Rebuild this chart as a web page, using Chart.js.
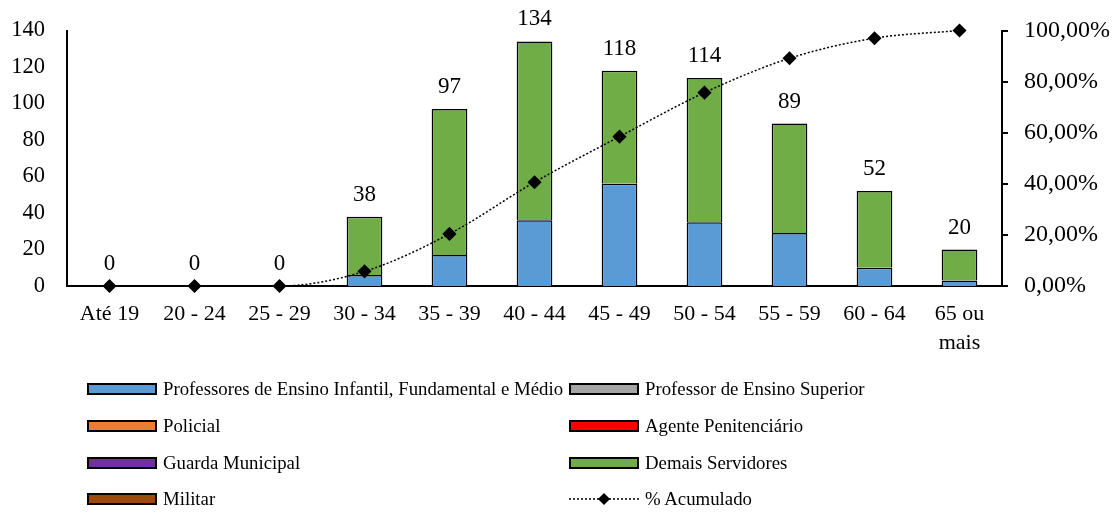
<!DOCTYPE html>
<html>
<head>
<meta charset="utf-8">
<script src="https://cdn.jsdelivr.net/npm/chart.js@4.4.0/dist/chart.umd.min.js"></script>
<style>
  html, body { margin: 0; padding: 0; background: #fff; overflow: hidden; }
  #wrap { position: relative; width: 1116px; height: 513px; overflow: hidden; }
  #chart { position: absolute; left: 0; top: -5px; }
  #legend { position: absolute; left: 0; top: 0; width: 1116px; height: 513px; pointer-events: none;
    font-family: 'Liberation Serif', 'Times New Roman', serif; font-size: 18.8px; color: #000; }
  .item { position: absolute; display: flex; align-items: center; height: 20px; white-space: nowrap; }
  .sw { width: 66px; height: 8px; border: 2px solid #000; margin-right: 6px; }
  .ln { width: 70px; height: 20px; margin-right: 6px; }
</style>
</head>
<body>
<div id="wrap">
  <canvas id="chart" width="1116" height="518"></canvas>
  <div id="legend"></div>
</div>
<script>
// categories and values
const ageGroups = ['Até 19', '20 - 24', '25 - 29', '30 - 34', '35 - 39', '40 - 44', '45 - 49', '50 - 54', '55 - 59', '60 - 64', ['65 ou', 'mais']];
const professoresBasico = [0, 0, 0, 6, 17, 36, 56, 35, 29, 10, 3];
const professorSuperior = [0, 0, 0, 0, 0, 0, 0, 0, 0, 0, 0];
const policial = [0, 0, 0, 0, 0, 0, 0, 0, 0, 0, 0];
const agentePenitenciario = [0, 0, 0, 0, 0, 0, 0, 0, 0, 0, 0];
const guardaMunicipal = [0, 0, 0, 0, 0, 0, 0, 0, 0, 0, 0];
const demaisServidores = [0, 0, 0, 32, 80, 98, 62, 79, 60, 42, 17];
const militar = [0, 0, 0, 0, 0, 0, 0, 0, 0, 0, 0];
const totals = [0, 0, 0, 38, 97, 134, 118, 114, 89, 52, 20];
const acumulado = [0, 0, 0, 5.74, 20.39, 40.63, 58.46, 75.68, 89.12, 96.98, 100];

const leftTicks = [0, 20, 40, 60, 80, 100, 120, 140];
const rightTicks = [0, 20, 40, 60, 80, 100];

const serif = "'Liberation Serif', 'Times New Roman', serif";

const colors = {
  blue: '#5B9BD5',
  gray: '#A5A5A5',
  orange: '#ED7D31',
  red: '#FF0000',
  purple: '#7030A0',
  green: '#70AD47',
  brown: '#9E480E',
};

function barSet(label, data, color) {
  const used = data.some((v) => v > 0);
  return {
    type: 'bar',
    label: label,
    data: data,
    backgroundColor: color,
    borderColor: '#000',
    borderWidth: used ? 1.5 : 0,
    stack: 's',
    yAxisID: 'y',
    order: 2,
    categoryPercentage: 1,
    barPercentage: 0.42,
  };
}

// totals above each column
const totalLabels = {
  id: 'totalLabels',
  afterDatasetsDraw(chart) {
    const ctx = chart.ctx;
    const yScale = chart.scales.y;
    const xScale = chart.scales.x;
    ctx.save();
    ctx.font = '23px ' + serif;
    ctx.fillStyle = '#000';
    ctx.textAlign = 'center';
    ctx.textBaseline = 'middle';
    totals.forEach((t, i) => {
      const x = xScale.getPixelForValue(i);
      const y = yScale.getPixelForValue(t);
      ctx.fillText(String(t), x, y - 22);
    });
    ctx.restore();
  },
};

new Chart(document.getElementById('chart'), {
  data: {
    labels: ageGroups,
    datasets: [
      barSet('Professores de Ensino Infantil, Fundamental e Médio', professoresBasico, colors.blue),
      barSet('Professor de Ensino Superior', professorSuperior, colors.gray),
      barSet('Policial', policial, colors.orange),
      barSet('Agente Penitenciário', agentePenitenciario, colors.red),
      barSet('Guarda Municipal', guardaMunicipal, colors.purple),
      barSet('Demais Servidores', demaisServidores, colors.green),
      barSet('Militar', militar, colors.brown),
      {
        type: 'line',
        label: '% Acumulado',
        data: acumulado,
        yAxisID: 'y1',
        borderColor: '#000',
        borderWidth: 1.5,
        borderDash: [2, 2],
        backgroundColor: '#000',
        pointStyle: 'rectRot',
        pointRadius: 6,
        pointBackgroundColor: '#000',
        pointBorderColor: '#000',
        cubicInterpolationMode: 'monotone',
        fill: false,
        clip: false,
        order: 1,
      },
    ],
  },
  options: {
    responsive: false,
    animation: false,
    events: [],
    layout: { autoPadding: false, padding: { top: 20, left: 0, right: 0, bottom: 0 } },
    plugins: {
      legend: { display: false },
      tooltip: { enabled: false },
    },
    scales: {
      x: {
        stacked: true,
        offset: true,
        grid: { display: false, drawTicks: false },
        border: { display: true, color: '#000', width: 2 },
        ticks: { color: '#000', font: { family: serif, size: 22, lineHeight: 1.3 }, padding: 14, maxRotation: 0, autoSkip: false },
        afterFit(scale) { scale.height = 227; },
      },
      y: {
        stacked: true,
        position: 'left',
        min: 0,
        max: 140,
        afterBuildTicks(scale) { scale.ticks = leftTicks.map((v) => ({ value: v })); },
        grid: { display: false, drawTicks: false },
        border: { display: true, color: '#000', width: 2 },
        ticks: { color: '#000', font: { family: serif, size: 22.5 }, padding: 22 },
        afterFit(scale) { scale.width = 67; },
      },
      y1: {
        position: 'right',
        min: 0,
        max: 100,
        afterBuildTicks(scale) { scale.ticks = rightTicks.map((v) => ({ value: v })); },
        grid: { display: true, drawOnChartArea: false, drawTicks: true, tickLength: 6, color: '#000', lineWidth: 2 },
        border: { display: true, color: '#000', width: 2 },
        ticks: {
          color: '#000',
          font: { family: serif, size: 24 },
          padding: 16,
          callback: (v) => v.toFixed(2).replace('.', ',') + '%',
        },
        afterFit(scale) { scale.width = 114; },
      },
    },
  },
  plugins: [totalLabels],
});

// two-column legend below the chart
const legendItems = [
  { label: 'Professores de Ensino Infantil, Fundamental e Médio', color: colors.blue, x: 87, y: 389 },
  { label: 'Professor de Ensino Superior', color: colors.gray, x: 569, y: 389 },
  { label: 'Policial', color: colors.orange, x: 87, y: 426 },
  { label: 'Agente Penitenciário', color: colors.red, x: 569, y: 426 },
  { label: 'Guarda Municipal', color: colors.purple, x: 87, y: 463 },
  { label: 'Demais Servidores', color: colors.green, x: 569, y: 463 },
  { label: 'Militar', color: colors.brown, x: 87, y: 499 },
  { label: '% Acumulado', line: true, x: 569, y: 499 },
];
const legendEl = document.getElementById('legend');
legendItems.forEach((it) => {
  const div = document.createElement('div');
  div.className = 'item';
  div.style.left = it.x + 'px';
  div.style.top = (it.y - 10) + 'px';
  if (it.line) {
    div.innerHTML = '<svg class="ln" viewBox="0 0 70 20"><line x1="0" y1="10" x2="70" y2="10" stroke="#000" stroke-width="1.5" stroke-dasharray="2,2"/>' +
      '<polygon points="35,4 41,10 35,16 29,10" fill="#000"/></svg>';
  } else {
    div.innerHTML = '<span class="sw" style="background:' + it.color + '"></span>';
  }
  const span = document.createElement('span');
  span.textContent = it.label;
  div.appendChild(span);
  legendEl.appendChild(div);
});
</script>
</body>
</html>
